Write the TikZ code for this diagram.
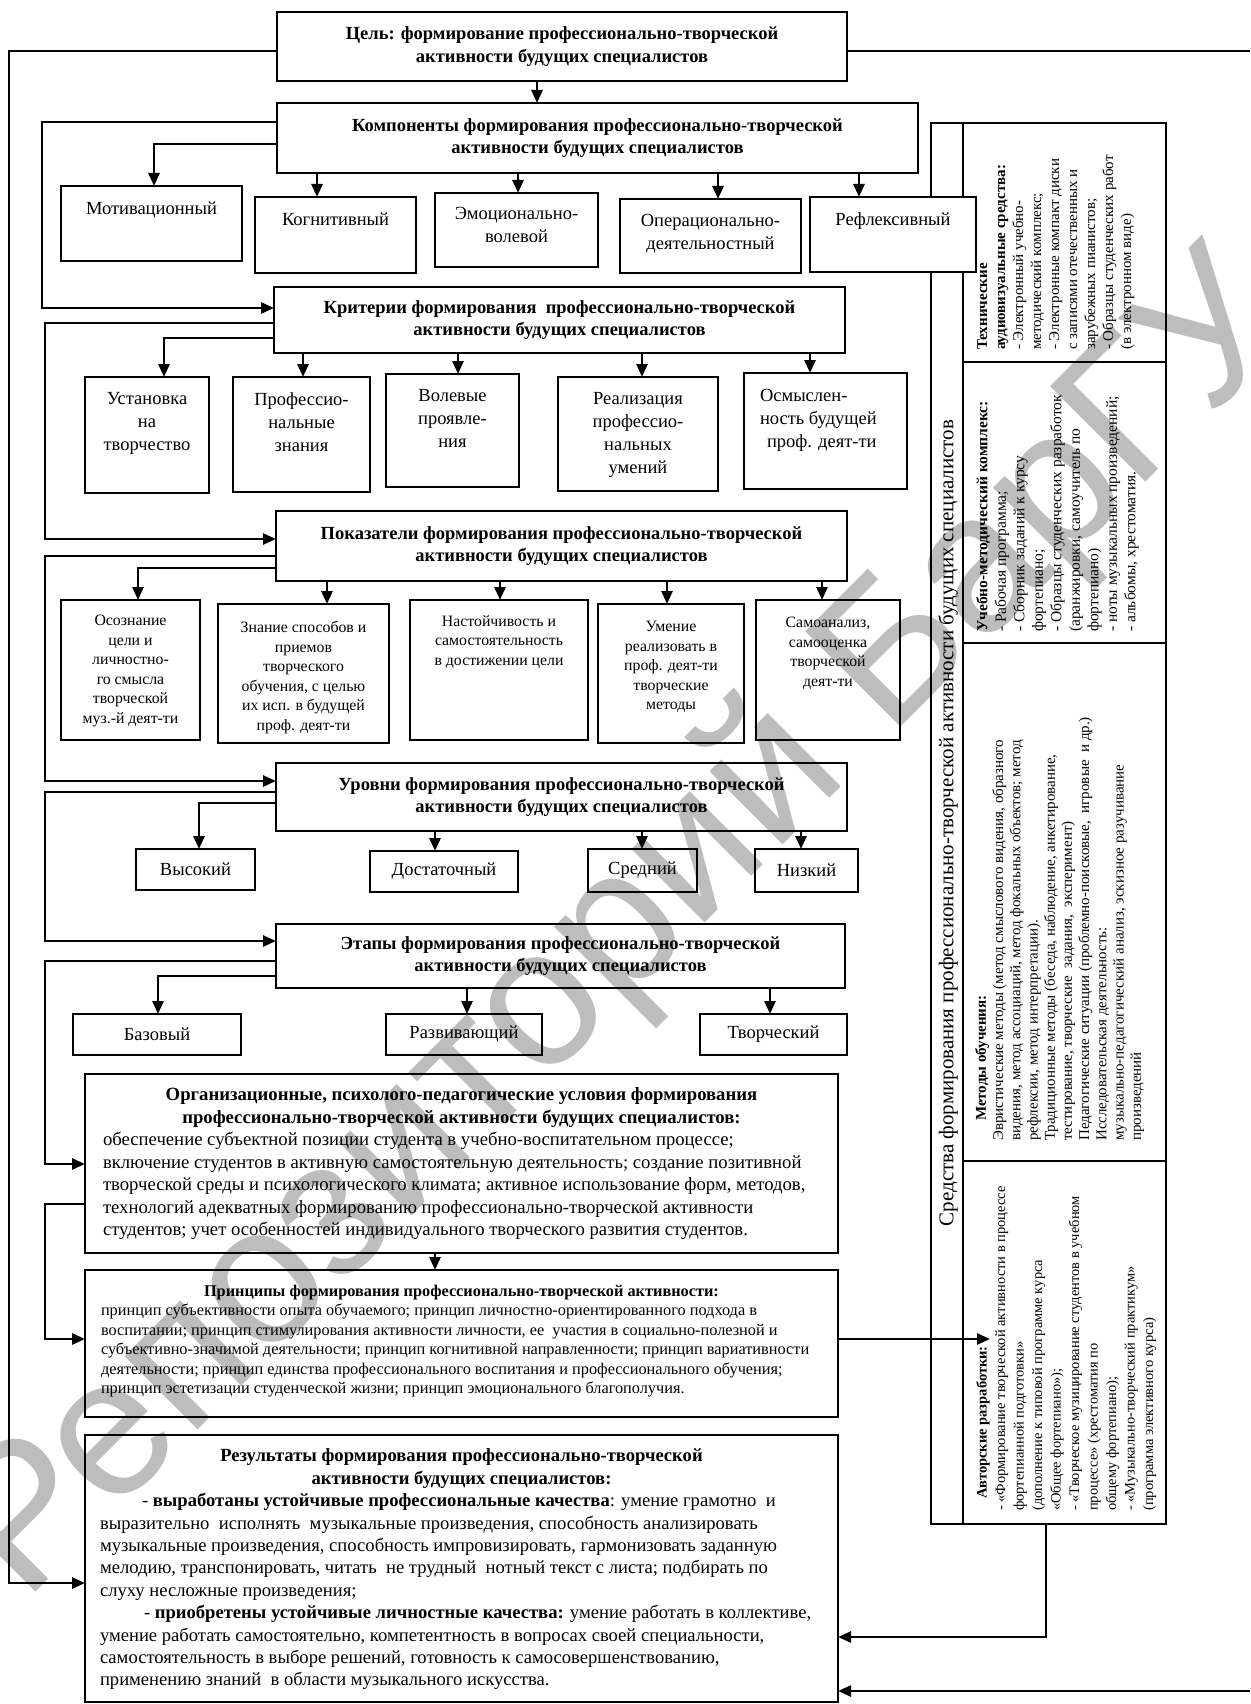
\documentclass[tikz,border=0pt]{standalone}
\usepackage{fontspec}
\setmainfont{Liberation Serif}
\newfontfamily\wmfont{Liberation Sans}
\usetikzlibrary{arrows.meta}
\newcommand{\tbx}[4]{\parbox[c][#2][t]{#1}{\vspace*{#3}\centering #4\par}}
\begin{document}
\begin{tikzpicture}[x=1pt,y=-1pt,
  box/.style={draw, line width=2.7pt, inner sep=0pt, outer sep=0pt},
  hbox/.style={box, align=center, font=\bfseries\fontsize{18.5}{22.5}\selectfont},
  cbox/.style={box, font=\fontsize{18.5}{23}\selectfont},
  sbox/.style={box, font=\fontsize{15.8}{19.5}\selectfont},
  ln/.style={line width=2.7pt},
  arr/.style={ln, -{Triangle[length=13pt,width=11pt]}},
  pane/.style={draw, line width=1.9pt, inner sep=0pt},
  pl/.style={line width=1.9pt},
  rt/.style={rotate=90, anchor=north west, align=left, inner sep=0pt},
  wm/.style={font=\wmfont\fontsize{196}{196}\selectfont, text=black!26, inner sep=0pt}]
\useasboundingbox (0,0) rectangle (1250,1704);

% watermark
\node[wm, rotate=45] (wm) at (624,930) {Репозиторий БарГУ};

% right panel
\node[pane, minimum width=235pt, minimum height=1401pt] (panel) at (1048.5,823.5) {};
\draw[pl] (panel.north -| 963,0) -- (panel.south -| 963,0);
\draw[pl] (963,362) -- (panel.east |- 0,362);
\draw[pl] (963,643) -- (panel.east |- 0,643);
\draw[pl] (963,1161) -- (panel.east |- 0,1161);
\node[rotate=90, inner sep=0pt, font=\fontsize{21}{25}\selectfont] (ttl) at (948,823) {Средства формирования профессионально-творческой активности будущих специалистов};
\node[rt, font=\fontsize{15}{18}\selectfont] (t1) at (977,350) {\textbf{Технические}\\\textbf{аудиовизуальные средства:}\\- Электронный учебно-\\методический комплекс;\\- Электронные компакт диски\\с записями отечественных и\\зарубежных пианистов;\\- Образцы студенческих работ\\(в электронном виде)};
\node[rt, font=\fontsize{15.5}{18.5}\selectfont] (t2) at (976,632) {\textbf{Учебно-методический комплекс:}\\- Рабочая программа;\\- Сборник заданий к курсу\\фортепиано;\\- Образцы студенческих разработок\\(аранжировки, самоучитель по\\фортепиано)\\- ноты музыкальных произведений;\\- альбомы, хрестоматия.};
\node[rt, font=\fontsize{15}{17.2}\selectfont] (t3) at (975,1141) {\hspace*{20pt}\textbf{Методы обучения:}\\Эвристические методы (метод смыслового видения, образного\\видения, метод ассоциаций, метод фокальных объектов; метод\\рефлексии, метод интерпретации).\\Традиционные методы (беседа, наблюдение, анкетирование,\\тестирование, творческие\ \ задания,\ \ эксперимент)\\Педагогические ситуации (проблемно-поисковые,\ \ игровые\ \ и др.)\\Исследовательская деятельность:\\музыкально-педагогический анализ, эскизное разучивание\\произведений};
\node[rt, font=\fontsize{14.5}{18.5}\selectfont] (t4) at (976,1511) {\hspace*{12pt}\textbf{Авторские разработки:}\\- «Формирование творческой активности в процессе\\фортепианной подготовки»\\(дополнение к типовой программе курса\\«Общее фортепиано»);\\- «Творческое музицирование студентов в учебном\\процессе» (хрестоматия по\\общему фортепиано);\\- «Музыкально-творческий практикум»\\(программа элективного курса)};

% goal and components
\node[hbox, minimum width=570pt, minimum height=69pt] (goal) at (562,46.5) {Цель: формирование профессионально-творческой\\активности будущих специалистов};
\node[hbox, minimum width=641pt, minimum height=70pt] (comp) at (597.5,138) {Компоненты формирования профессионально-творческой\\активности будущих специалистов};
\node[cbox] (mot) at (151.5,223.5) {\tbx{181pt}{75pt}{15.5pt}{Мотивационный}};
\node[cbox] (kog) at (335.5,235) {\tbx{161pt}{76pt}{15.5pt}{Когнитивный}};
\node[cbox] (emo) at (516.5,230) {\tbx{163pt}{74pt}{14.5pt}{Эмоционально-\\волевой}};
\node[cbox] (oper) at (710.5,236) {\tbx{181pt}{74pt}{15.5pt}{Операционально-\\деятельностный}};
\node[cbox, fill=white] (refl) at (893,234.5) {\tbx{166pt}{75pt}{15.5pt}{Рефлексивный}};

% criteria
\node[hbox, minimum width=571pt, minimum height=66pt] (crit) at (559.5,320) {Критерии формирования\ \ профессионально-творческой\\активности будущих специалистов};
\node[cbox] (ust) at (147,435) {\tbx{124pt}{116pt}{15.5pt}{Установка\\на\\творчество}};
\node[cbox] (prof) at (301.5,434.5) {\tbx{137pt}{115pt}{15.5pt}{Профессио-\\нальные\\знания}};
\node[cbox] (vol) at (452.5,430.5) {\tbx{133pt}{113pt}{15.5pt}{Волевые\\проявле-\\ния}};
\node[cbox] (real) at (638,434) {\tbx{160pt}{114pt}{15.5pt}{Реализация\\профессио-\\нальных\\умений}};
\node[cbox] (osm) at (825.5,431) {\parbox[c][116pt][t]{163pt}{\vspace*{16.5pt}\raggedright\leftskip=16pt Осмыслен-\\ность будущей\\\hspace*{7pt}проф. деят-ти\par}};

% indicators
\node[hbox, minimum width=571pt, minimum height=70pt] (pok) at (561.5,546) {Показатели формирования профессионально-творческой\\активности будущих специалистов};
\node[sbox] (oso) at (130.5,670) {\tbx{139pt}{140pt}{15.5pt}{Осознание\\цели и\\личностно-\\го смысла\\творческой\\муз.-й деят-ти}};
\node[sbox] (zna) at (303.5,673.5) {\tbx{171pt}{139pt}{17.5pt}{Знание способов и\\приемов\\творческого\\обучения, с целью\\их исп. в будущей\\проф. деят-ти}};
\node[sbox] (nas) at (499,670) {\tbx{178pt}{140pt}{15.5pt}{Настойчивость и\\самостоятельность\\в достижении цели}};
\node[sbox] (ume) at (671,673.5) {\tbx{146pt}{139pt}{17.5pt}{Умение\\реализовать в\\проф. деят-ти\\творческие\\методы}};
\node[sbox] (sam) at (828,670) {\tbx{144pt}{140pt}{17.5pt}{Самоанализ,\\самооценка\\творческой\\деят-ти}};

% levels
\node[hbox, minimum width=571pt, minimum height=68pt] (urov) at (561.5,797) {Уровни формирования профессионально-творческой\\активности будущих специалистов};
\node[cbox, minimum width=119pt, minimum height=41pt] (vys) at (195.5,869.5) {Высокий};
\node[cbox, minimum width=148pt, minimum height=41pt] (dos) at (444,871.5) {Достаточный};
\node[cbox, minimum width=109pt, minimum height=43pt] (sre) at (642.5,870.5) {Средний};
\node[cbox, minimum width=103pt, minimum height=43pt] (niz) at (806.5,870.5) {Низкий};

% stages
\node[hbox, minimum width=569pt, minimum height=64pt] (etap) at (560.5,956) {Этапы формирования профессионально-творческой\\активности будущих специалистов};
\node[cbox, minimum width=168pt, minimum height=41pt] (baz) at (157,1034.5) {Базовый};
\node[cbox, minimum width=156pt, minimum height=41pt] (raz) at (464,1034.5) {Развивающий};
\node[cbox, minimum width=147pt, minimum height=41pt] (tvo) at (773.5,1034.5) {Творческий};

% conditions
\node[box] (cond) at (461.5,1163.5) {\parbox[c][179pt][t]{753pt}{\vspace*{14pt}\fontsize{18.7}{22.5}\selectfont\centering\bfseries Организационные, психолого-педагогические условия формирования\\профессионально-творческой активности будущих специалистов:\par\raggedright\leftskip=18pt\mdseries обеспечение субъектной позиции студента в учебно-воспитательном процессе;\\включение студентов в активную самостоятельную деятельность; создание позитивной\\творческой среды и психологического климата; активное использование форм, методов,\\технологий адекватных формированию профессионально-творческой активности\\студентов; учет особенностей индивидуального творческого развития студентов.\par}};

% principles
\node[box] (princ) at (461.5,1343.5) {\parbox[c][147pt][t]{753pt}{\vspace*{15pt}\fontsize{16.3}{19.5}\selectfont\centering\bfseries Принципы формирования профессионально-творческой активности:\par\raggedright\leftskip=16pt\mdseries принцип субъективности опыта обучаемого; принцип личностно-ориентированного подхода в\\воспитании; принцип стимулирования активности личности, ее\ \ участия в социально-полезной и\\субъективно-значимой деятельности; принцип когнитивной направленности; принцип вариативности\\деятельности; принцип единства профессионального воспитания и профессионального обучения;\\принцип эстетизации студенческой жизни; принцип эмоционального благополучия.\par}};

% results
\node[box] (res) at (461.5,1568.5) {\parbox[c][267pt][t]{753pt}{\vspace*{14pt}\fontsize{18.6}{22.4}\selectfont\centering\bfseries Результаты формирования профессионально-творческой\\активности будущих специалистов:\par\raggedright\leftskip=15pt\mdseries\hspace*{42pt}- \textbf{выработаны устойчивые профессиональные качества}: умение грамотно\ \ и\\выразительно\ \ исполнять\ \ музыкальные произведения, способность анализировать\\музыкальные произведения, способность импровизировать, гармонизовать заданную\\мелодию, транспонировать, читать\ \ не трудный\ \ нотный текст с листа; подбирать по\\слуху несложные произведения;\\\hspace*{44pt}- \textbf{приобретены устойчивые личностные качества:} умение работать в коллективе,\\умение работать самостоятельно, компетентность в вопросах своей специальности,\\самостоятельность в выборе решений, готовность к самосовершенствованию,\\применению знаний\ \ в области музыкального искусства.\par}};

\coordinate (rtop) at (1250,51);
\coordinate (rbot) at (1250,1691);
\coordinate (autr) at (990,1339);

% connectors
\draw[arr] (goal.south -| 537,0) -- (comp.north -| 537,0);
\draw[ln] (goal.east |- 0,51) -- (rtop);
\draw[arr] (goal.west |- 0,51) -- (9,51) -- (9,1583) -- (res.west |- 0,1583);

\draw[arr] (comp.west |- 0,122) -- (42,122) -- (42,308) -- (crit.west |- 0,308);
\draw[arr] (comp.west |- 0,144) -| (mot.north -| 154,0);
\draw[arr] (comp.south -| 317,0) -- (kog.north -| 317,0);
\draw[arr] (comp.south -| 518,0) -- (emo.north -| 518,0);
\draw[arr] (comp.south -| 718,0) -- (oper.north -| 718,0);
\draw[arr] (comp.south -| 859,0) -- (refl.north -| 859,0);

\draw[arr] (crit.west |- 0,323) -- (45,323) -- (45,539) -- (pok.west |- 0,539);
\draw[arr] (crit.west |- 0,338) -| (ust.north -| 164,0);
\draw[arr] (crit.south -| 303,0) -- (prof.north -| 303,0);
\draw[arr] (crit.south -| 458,0) -- (vol.north -| 458,0);
\draw[arr] (crit.south -| 642,0) -- (real.north -| 642,0);
\draw[arr] (crit.south -| 810,0) -- (osm.north -| 810,0);

\draw[arr] (pok.west |- 0,556) -- (45,556) -- (45,781) -- (urov.west |- 0,781);
\draw[arr] (pok.west |- 0,568) -| (oso.north -| 138,0);
\draw[arr] (pok.south -| 327,0) -- (zna.north -| 327,0);
\draw[arr] (pok.south -| 500,0) -- (nas.north -| 500,0);
\draw[arr] (pok.south -| 667,0) -- (ume.north -| 667,0);
\draw[arr] (pok.south -| 822,0) -- (sam.north -| 822,0);

\draw[arr] (urov.west |- 0,792) -- (45,792) -- (45,941) -- (etap.west |- 0,941);
\draw[arr] (urov.west |- 0,803) -| (vys.north -| 199,0);
\draw[arr] (urov.south -| 435,0) -- (dos.north -| 435,0);
\draw[arr] (urov.south -| 642,0) -- (sre.north -| 642,0);
\draw[arr] (urov.south -| 801,0) -- (niz.north -| 801,0);

\draw[arr] (etap.west |- 0,961) -- (45,961) -- (45,1164) -- (cond.west |- 0,1164);
\draw[arr] (etap.west |- 0,976) -| (baz.north -| 158,0);
\draw[arr] (etap.south -| 467,0) -- (raz.north -| 467,0);
\draw[arr] (etap.south -| 770,0) -- (tvo.north -| 770,0);

\draw[arr] (cond.west |- 0,1204) -- (45,1204) -- (45,1339) -- (princ.west |- 0,1339);
\draw[arr] (cond.south -| 435,0) -- (princ.north -| 435,0);
\draw[arr] (princ.east |- 0,1339) -- (autr);
\draw[arr] (panel.south -| 1046,0) -- (1046,1637) -- (res.east |- 0,1637);
\draw[arr] (rbot) -- (res.east |- 0,1691);
\end{tikzpicture}
\end{document}
